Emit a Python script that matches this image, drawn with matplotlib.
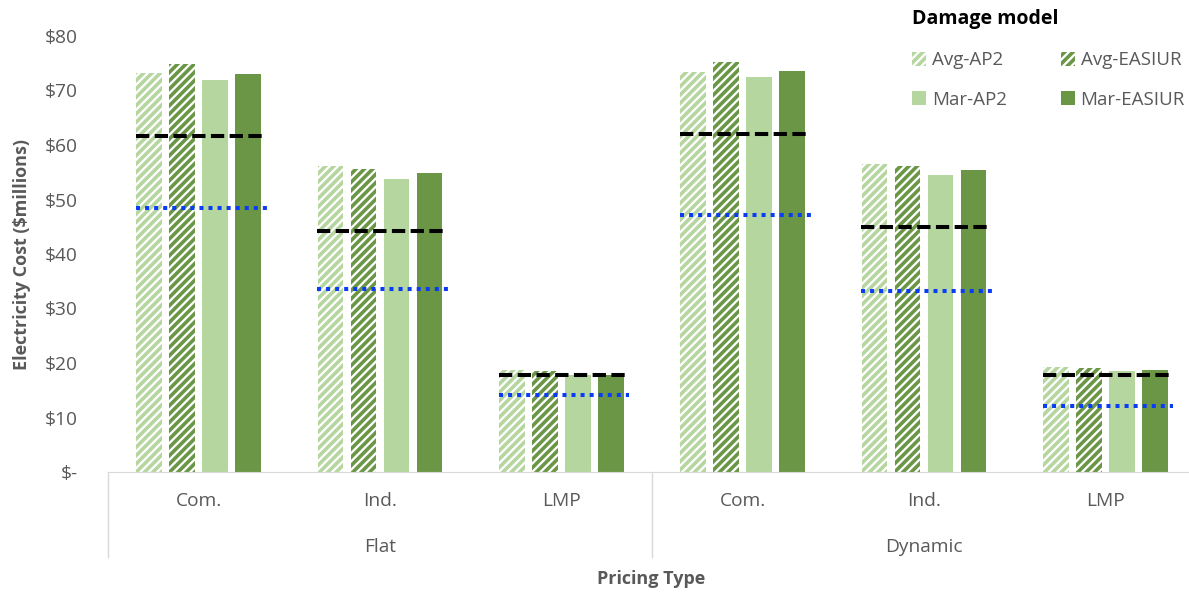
import numpy as np
import matplotlib.pyplot as plt
from matplotlib.patches import Patch
import matplotlib.transforms as mtransforms

plt.rcParams['font.family'] = ['Open Sans', 'DejaVu Sans']
plt.rcParams['hatch.linewidth'] = 2.6

pricing = ['Flat', 'Dynamic']
tariffs = ['Com.', 'Ind.', 'LMP']
series = ['Avg-AP2', 'Avg-EASIUR', 'Mar-AP2', 'Mar-EASIUR']

# cost in $ millions, order: Flat Com/Ind/LMP, Dynamic Com/Ind/LMP
avg_ap2 = [73.2, 56.1, 18.7, 73.4, 56.5, 19.3]
avg_easiur = [74.9, 55.6, 18.5, 75.2, 56.1, 19.1]
mar_ap2 = [71.9, 53.8, 17.8, 72.5, 54.5, 18.5]
mar_easiur = [73.0, 54.9, 17.8, 73.6, 55.4, 18.7]
dashed_level = [61.7, 44.2, 17.8, 62.0, 45.0, 17.8]
dotted_level = [48.4, 33.6, 14.1, 47.2, 33.2, 12.1]

light = '#b5d69f'
dark = '#6a9646'
grey = '#595959'

fig = plt.figure(figsize=(11.89, 5.94), dpi=100)
ax = fig.add_axes([108/1189, 1 - 472/594, 1088/1189, 436/594])

x = np.arange(6) + 0.5
w = 0.143
step = 0.182
offs = (np.arange(4) - 1.5) * step

ax.bar(x + offs[0], avg_ap2, w, color='white', edgecolor=light, hatch='////', lw=0)
ax.bar(x + offs[1], avg_easiur, w, color='white', edgecolor=dark, hatch='////', lw=0)
ax.bar(x + offs[2], mar_ap2, w, color=light, lw=0)
ax.bar(x + offs[3], mar_easiur, w, color=dark, lw=0)

for i in range(6):
    ax.plot([x[i] - 0.345, x[i] + 0.375], [dashed_level[i]] * 2, color='black',
            lw=2.9, ls=(0, (3.3, 1.35)), dash_capstyle='butt')
    ax.plot([x[i] - 0.345, x[i] + 0.375], [dotted_level[i]] * 2, color='#0b3cf5',
            lw=2.9, ls=(0, (1, 1.25)), dash_capstyle='butt')

ax.set_xlim(0, 6)
ax.set_ylim(0, 80)
ax.set_yticks(range(0, 81, 10))
ax.set_yticklabels(['$-'] + ['$%d' % v for v in range(10, 81, 10)])
ax.tick_params(axis='y', length=0, pad=22, labelsize=13.8, labelcolor=grey)
ax.tick_params(axis='x', length=0, bottom=False, labelbottom=False)
for s in ['top', 'right', 'left']:
    ax.spines[s].set_visible(False)
ax.spines['bottom'].set_color('#d9d9d9')

# two-level category axis below the plot
trans = mtransforms.blended_transform_factory(ax.transData, ax.transAxes)
for i in range(6):
    ax.text(x[i], -0.067, tariffs[i % 3], transform=trans, ha='center', va='center',
            fontsize=13.8, color=grey)
for g in range(2):
    ax.text(3 * g + 1.5, -0.172, pricing[g], transform=trans, ha='center', va='center',
            fontsize=13.8, color=grey)
for xs in [0, 3, 6]:
    ax.plot([xs, xs], [0, -0.195], transform=trans, color='#d9d9d9', lw=1, clip_on=False)

ax.set_ylabel('Electricity Cost ($millions)', fontsize=13, fontweight='bold', color=grey, labelpad=10)
fig.text(651/1189, 1 - 579/594, 'Pricing Type', ha='center', va='center',
         fontsize=13, fontweight='bold', color=grey)

handles = [
    Patch(facecolor='white', edgecolor=light, hatch='////', lw=0, label='Avg-AP2'),
    Patch(facecolor=light, lw=0, label='Mar-AP2'),
    Patch(facecolor='white', edgecolor=dark, hatch='////', lw=0, label='Avg-EASIUR'),
    Patch(facecolor=dark, lw=0, label='Mar-EASIUR'),
]
leg = fig.legend(handles=handles, ncol=2, frameon=False, loc='upper left',
                 bbox_to_anchor=(912/1189, 1 - 9/594), borderaxespad=0, borderpad=0,
                 title='Damage model',
                 title_fontproperties={'weight': 'bold', 'size': 14},
                 fontsize=13.5, handlelength=0.75, handleheight=0.75,
                 handletextpad=0.3, columnspacing=2.9, labelspacing=1.15,
                 alignment='left', labelcolor=grey)
leg._legend_box.sep = 16

fig.savefig('out.png', dpi=100)
